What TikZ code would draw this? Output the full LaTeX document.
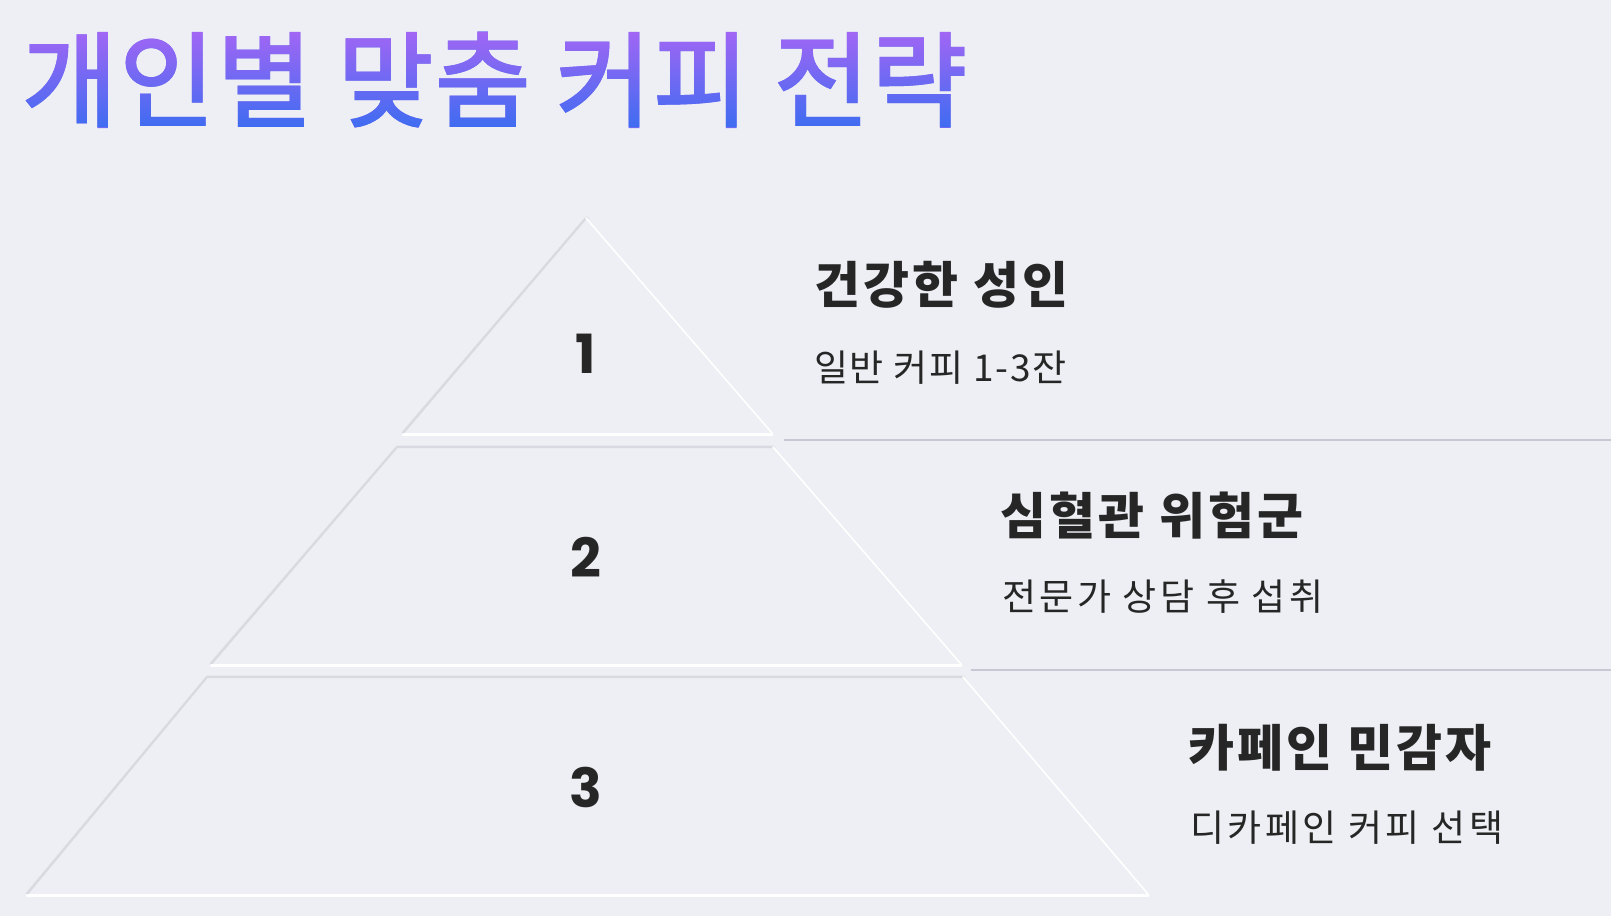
\documentclass[tikz,border=0pt]{standalone}
\usepackage{fontspec}
\usetikzlibrary{fadings}
\newfontfamily\krfont{Noto Sans CJK KR}
\newfontfamily\krtitlefont{Noto Sans CJK KR}[FakeBold=2]
\newfontfamily\numfont{Poppins}
\definecolor{bg}{HTML}{EEEFF4}
\definecolor{ink}{HTML}{262626}
\definecolor{edgeshade}{HTML}{D9DAE1}
\definecolor{edgesoft}{HTML}{E4E5EA}
\definecolor{sepline}{HTML}{C8C8D5}
\definecolor{titletop}{HTML}{A066F4}
\definecolor{titlemid}{HTML}{6E69F2}
\definecolor{titlebot}{HTML}{3F6CF1}
\newcommand\titletext{\krtitlefont\fontsize{104}{104}\selectfont\addfontfeature{LetterSpace=1.7}개인별 맞춤 커피 전략}
\begin{document}
\pgfdeclarefading{titlefade}{\color{white}\titletext}
\begin{tikzpicture}[x=1pt,y=-1pt,
  softshadow/.style={draw=edgesoft,line width=5pt,line cap=round,line join=round},
  shadowedge/.style={draw=edgeshade,line width=2.2pt,line cap=round,line join=round},
  lightside/.style={draw=white,line width=1.6pt,line cap=round,line join=round},
  lightbase/.style={draw=white,line width=3pt,line cap=round},
  num/.style={font=\numfont\bfseries\fontsize{54}{54}\selectfont, text=ink, inner sep=0},
  head/.style={font=\krfont\bfseries\fontsize{50}{50}\selectfont\addfontfeature{LetterSpace=6.3}, text=ink, inner sep=0, anchor=west},
  desc/.style={font=\krfont\fontsize{37}{37}\selectfont\addfontfeature{LetterSpace=#1}, text=ink, inner sep=0, anchor=west},
  desc/.default=9.3,
  sepstyle/.style={draw=sepline,line width=2pt}]
\useasboundingbox (0,0) rectangle (1611,916);
\fill[bg] (0,0) rectangle (1611,916);

% title
\node[inner sep=0, text=titlemid] (title) at (494.5,79.7) {\titletext};
\begin{scope}[transform canvas={shift={(title.center)}}]
  \shade[top color=titletop, bottom color=titlebot, path fading=titlefade, fit fading=false]
    (-520,-47) rectangle (520,47);
\end{scope}

% tier 1
\draw[softshadow] (404,433) -- (587,219);
\fill[bg] (586,218) -- (772,433) -- (403,433) -- cycle;
\draw[shadowedge] (403,433) -- (586,218);
\draw[lightside] (586,218) -- (772,433);
\draw[lightbase] (772,434) -- (403,434);
% tier 2
\draw[softshadow] (212,664) -- (398,448) -- (773,448);
\fill[bg] (397,447) -- (773,447) -- (961,664) -- (211,664) -- cycle;
\draw[shadowedge] (211,664) -- (397,447) -- (773,447);
\draw[lightside] (773,447) -- (961,664);
\draw[lightbase] (961,665) -- (211,665);
% tier 3
\draw[softshadow] (28,894) -- (208,678) -- (963,678);
\fill[bg] (207,677) -- (963,677) -- (1148,894) -- (27,894) -- cycle;
\draw[shadowedge] (27,894) -- (207,677) -- (963,677);
\draw[lightside] (963,677) -- (1148,894);
\draw[lightbase] (1148,895) -- (27,895);

% numbers
\node[num] (n1) at (586,354) {1};
\node[num] (n2) at (586,557.5) {2};
\node[num] (n3) at (586,787) {3};

% separators
\coordinate (s1l) at (784,440);
\coordinate (s1r) at (1611,440);
\coordinate (s2l) at (971,670);
\coordinate (s2r) at (1611,670);
\draw[sepstyle] (s1l) -- (s1r);
\draw[sepstyle] (s2l) -- (s2r);

% labels
\node[head] (h1) at (814,285) {건강한 성인};
\node[desc=4.5] (d1) at (814,368) {일반 커피 1-3잔};
\node[head] (h2) at (1000,516) {심혈관 위험군};
\node[desc] (d2) at (1002,597) {전문가 상담 후 섭취};
\node[head] (h3) at (1188,747.5) {카페인 민감자};
\node[desc] (d3) at (1190,828) {디카페인 커피 선택};
\end{tikzpicture}
\end{document}
